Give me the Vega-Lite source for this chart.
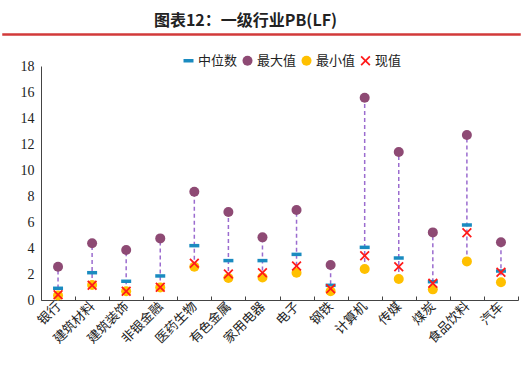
{
  "$schema": "https://vega.github.io/schema/vega-lite/v6.json",
  "padding": {"top": 12, "left": 0, "right": 0, "bottom": 0},
  "autosize": {"type": "pad"},
  "background": "white",
  "spacing": 21,
  "config": {"view": {"stroke": null}, "font": "Noto Sans CJK SC"},
  "datasets": {
    "pb": [
      {"industry": "银行", "中位数": 0.9, "最大值": 2.56, "最小值": 0.35, "现值": 0.4},
      {"industry": "建筑材料", "中位数": 2.1, "最大值": 4.36, "最小值": 1.15, "现值": 1.13},
      {"industry": "建筑装饰", "中位数": 1.44, "最大值": 3.85, "最小值": 0.67, "现值": 0.67},
      {"industry": "非银金融", "中位数": 1.85, "最大值": 4.74, "最小值": 0.97, "现值": 0.99},
      {"industry": "医药生物", "中位数": 4.18, "最大值": 8.33, "最小值": 2.56, "现值": 2.82},
      {"industry": "有色金属", "中位数": 3.03, "最大值": 6.77, "最小值": 1.69, "现值": 2.0},
      {"industry": "家用电器", "中位数": 3.03, "最大值": 4.82, "最小值": 1.74, "现值": 2.1},
      {"industry": "电子", "中位数": 3.51, "最大值": 6.92, "最小值": 2.1, "现值": 2.62},
      {"industry": "钢铁", "中位数": 1.13, "最大值": 2.69, "最小值": 0.67, "现值": 0.87},
      {"industry": "计算机", "中位数": 4.05, "最大值": 15.56, "最小值": 2.38, "现值": 3.41},
      {"industry": "传媒", "中位数": 3.23, "最大值": 11.38, "最小值": 1.62, "现值": 2.56},
      {"industry": "煤炭", "中位数": 1.41, "最大值": 5.2, "最小值": 0.82, "现值": 1.28},
      {"industry": "食品饮料", "中位数": 5.77, "最大值": 12.69, "最小值": 2.97, "现值": 5.18},
      {"industry": "汽车", "中位数": 2.23, "最大值": 4.44, "最小值": 1.36, "现值": 2.13}
    ]
  },
  "vconcat": [
    {
      "width": 517,
      "height": 1,
      "title": {"text": "图表12：一级行业PB(LF)", "fontSize": 16, "fontWeight": "bold", "anchor": "middle", "dx": -16, "offset": 3, "color": "#222222", "font": "Noto Sans CJK SC"},
      "view": {"stroke": "#D23A3A", "strokeWidth": 1.5},
      "data": {"values": [{"a": 0}]},
      "mark": {"type": "point", "opacity": 0},
      "encoding": {}
    },
    {
      "spacing": 13,
      "hconcat": [
        {
          "width": 1,
          "height": 1,
          "data": {"values": [{"a": 0}]},
          "mark": {"type": "point", "opacity": 0},
          "encoding": {}
        },
        {
          "width": 477,
          "height": 234,
          "data": {"name": "pb"},
          "encoding": {
            "x": {
              "field": "industry",
              "type": "nominal",
              "sort": null,
              "scale": {"paddingInner": 0, "paddingOuter": 0},
              "axis": {
                "title": null,
                "labelAngle": -45,
                "labelAlign": "right",
                "labelBaseline": "middle",
                "labelFontSize": 13,
                "labelColor": "#222222",
                "labelPadding": 8,
                "tickBand": "extent",
                "tickSize": -4,
                "tickColor": "#444444",
                "domainColor": "#444444",
                "labelFont": "Noto Sans CJK SC"
              }
            }
          },
          "layer": [
            {
              "mark": {"type": "rule", "color": "#9B6CCF", "strokeWidth": 1.5, "strokeDash": [4, 3]},
              "encoding": {
                "y": {
                  "field": "最小值",
                  "type": "quantitative",
                  "scale": {"domain": [0, 18], "nice": false},
                  "axis": {
                    "title": null,
                    "values": [0, 2, 4, 6, 8, 10, 12, 14, 16, 18],
                    "labelOverlap": false,
                    "grid": false,
                    "ticks": false,
                    "labelPadding": 7,
                    "labelFont": "Liberation Serif",
                    "labelFontSize": 14,
                    "labelColor": "#222222",
                    "domainColor": "#444444"
                  }
                },
                "y2": {"field": "最大值"}
              }
            },
            {
              "transform": [{"fold": ["中位数", "最大值", "最小值", "现值"], "as": ["series", "value"]}],
              "mark": {"type": "point", "filled": true, "opacity": 1, "size": 100},
              "encoding": {
                "y": {
                  "field": "value",
                  "type": "quantitative",
                  "scale": {"domain": [0, 18], "nice": false},
                  "axis": {
                    "title": null,
                    "values": [0, 2, 4, 6, 8, 10, 12, 14, 16, 18],
                    "labelOverlap": false,
                    "grid": false,
                    "ticks": false,
                    "labelPadding": 7,
                    "labelFont": "Liberation Serif",
                    "labelFontSize": 14,
                    "labelColor": "#222222",
                    "domainColor": "#444444"
                  }
                },
                "color": {
                  "field": "series",
                  "type": "nominal",
                  "scale": {"domain": ["中位数", "最大值", "最小值", "现值"], "range": ["#1A8BC0", "#8E4A74", "#FFC000", "#FF1A1A"]},
                  "legend": {
                    "title": null,
                    "orient": "none",
                    "direction": "horizontal",
                    "legendX": 179,
                    "legendY": 20,
                    "labelFontSize": 13,
                    "labelColor": "#222222",
                    "labelOffset": 3,
                    "columnPadding": 3,
                    "symbolSize": 100,
                    "symbolStrokeWidth": 0,
                    "labelFont": "Noto Sans CJK SC"
                  }
                },
                "shape": {
                  "field": "series",
                  "type": "nominal",
                  "scale": {
                    "domain": ["中位数", "最大值", "最小值", "现值"],
                    "range": [
                      "M-1,-0.35H1V0.35H-1Z",
                      "circle",
                      "circle",
                      "M-1,-0.75L-0.75,-1L0,-0.25L0.75,-1L1,-0.75L0.25,0L1,0.75L0.75,1L0,0.25L-0.75,1L-1,0.75L-0.25,0Z"
                    ]
                  },
                  "legend": {
                    "title": null,
                    "orient": "none",
                    "direction": "horizontal",
                    "legendX": 179,
                    "legendY": 20,
                    "labelFontSize": 13,
                    "labelOffset": 3,
                    "columnPadding": 3,
                    "symbolSize": 100
                  }
                }
              }
            }
          ]
        }
      ]
    }
  ]
}
